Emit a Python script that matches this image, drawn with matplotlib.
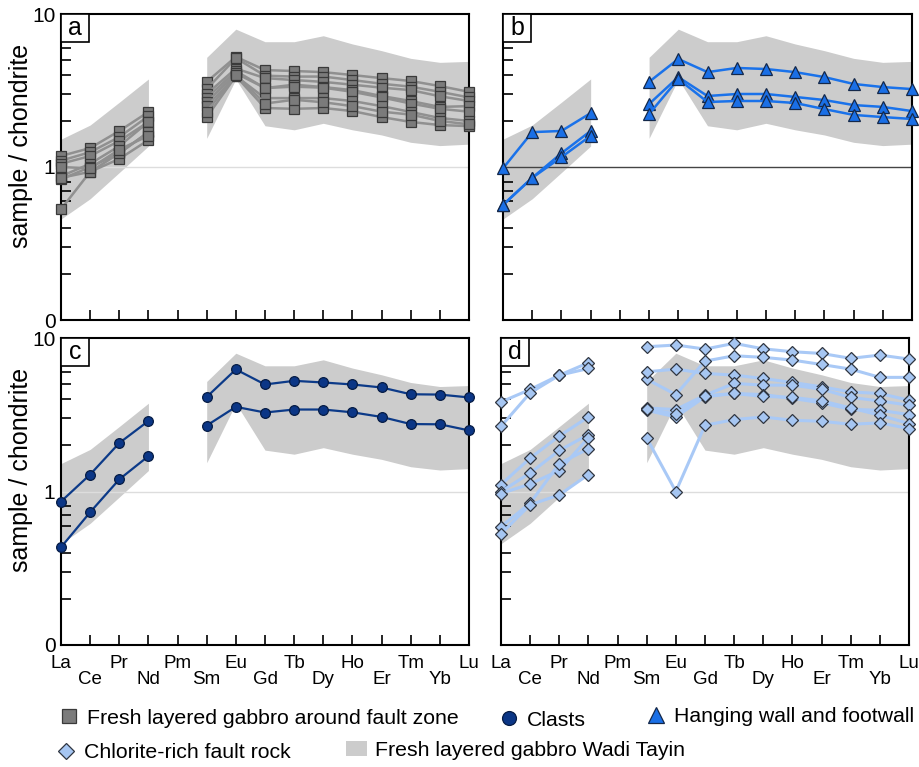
import numpy as np
import matplotlib
matplotlib.use('Agg')
import matplotlib.pyplot as plt
from matplotlib.lines import Line2D
from matplotlib.patches import Patch, Rectangle
from matplotlib.ticker import FixedLocator, NullFormatter

plt.rcParams['font.family'] = ['Liberation Sans', 'DejaVu Sans']

nan = np.nan
elements = ['La', 'Ce', 'Pr', 'Nd', 'Pm', 'Sm', 'Eu', 'Gd', 'Tb', 'Dy', 'Ho', 'Er', 'Tm', 'Yb', 'Lu']

# Envelope: fresh layered gabbro Wadi Tayin
env_upper = [1.52, 1.88, 2.65, 3.76, nan, 5.21, 7.96, 6.59, 6.59, 7.21, 6.37, 5.76, 5.13, 4.83, 4.90]
env_lower = [0.457, 0.62, 0.92, 1.37, nan, 1.54, 3.75, 1.86, 1.75, 1.93, 1.75, 1.62, 1.45, 1.38, 1.41]

# (a) Fresh layered gabbro around fault zone
gabbro = [
    [1.18, 1.33, 1.72, 2.29, nan, 3.60, 5.25, 4.30, 4.24, 4.17, 3.99, 3.81, 3.65, 3.38, 3.10],
    [1.10, 1.25, 1.57, 2.15, nan, 3.23, 5.15, 3.95, 3.90, 3.90, 3.70, 3.50, 3.35, 3.10, 2.85],
    [1.05, 1.18, 1.48, 1.97, nan, 3.00, 4.40, 3.81, 3.70, 3.60, 3.45, 3.30, 3.18, 2.90, 2.70],
    [0.87, 1.05, 1.37, 1.97, nan, 2.82, 4.24, 3.28, 3.45, 3.33, 3.18, 2.91, 2.70, 2.47, 2.50],
    [0.83, 1.00, 1.23, 1.69, nan, 2.65, 4.10, 3.28, 3.35, 3.30, 3.10, 2.85, 2.60, 2.40, 2.30],
    [0.85, 0.93, 1.13, 1.50, nan, 2.50, 3.93, 2.82, 2.82, 2.82, 2.70, 2.50, 2.29, 2.09, 2.00],
    [0.53, 0.93, 1.23, 1.69, nan, 2.12, 3.93, 2.43, 2.40, 2.43, 2.32, 2.12, 1.97, 1.88, 1.85],
    [1.00, 0.98, 1.30, 1.60, nan, 2.30, 4.00, 2.60, 2.75, 2.65, 2.50, 2.30, 2.20, 2.00, 1.90],
]

# (b) Hanging wall and footwall
walls = [
    [0.98, 1.69, 1.72, 2.25, nan, 3.60, 5.08, 4.17, 4.44, 4.37, 4.17, 3.87, 3.49, 3.33, 3.23],
    [0.565, 0.85, 1.23, 1.72, nan, 2.58, 3.87, 2.91, 3.00, 3.00, 2.87, 2.74, 2.54, 2.47, 2.32],
    [0.565, 0.85, 1.16, 1.60, nan, 2.22, 3.76, 2.66, 2.70, 2.70, 2.62, 2.39, 2.19, 2.12, 2.06],
]

# (c) Clasts
clasts = [
    [0.86, 1.29, 2.07, 2.88, nan, 4.13, 6.24, 4.98, 5.26, 5.13, 4.98, 4.76, 4.30, 4.28, 4.10],
    [0.433, 0.733, 1.20, 1.70, nan, 2.69, 3.56, 3.27, 3.42, 3.42, 3.28, 3.06, 2.75, 2.74, 2.50],
]

# (d) Chlorite-rich fault rock
chlorite = [
    [3.83, 4.62, 5.72, 6.90, nan, 8.77, 9.00, 8.47, 9.23, 8.50, 8.14, 7.93, 7.37, 7.74, 7.29],
    [2.66, 4.39, 5.72, 6.33, nan, 5.39, 4.28, 7.07, 7.66, 7.48, 7.18, 6.72, 6.27, 5.54, 5.54],
    [1.11, 1.65, 2.30, 3.06, nan, 6.02, 6.27, 5.88, 5.73, 5.45, 5.13, 4.81, 4.45, 4.35, 3.93],
    [1.00, 1.32, 1.85, 2.35, nan, 3.50, 3.42, 4.24, 5.06, 4.93, 4.93, 4.64, 4.10, 3.89, 3.65],
    [0.97, 1.12, 1.37, 2.24, nan, 3.38, 3.06, 4.14, 4.35, 4.28, 4.04, 3.78, 3.43, 3.38, 3.17],
    [0.59, 0.84, 1.52, 1.90, nan, 3.45, 3.20, 4.20, 4.35, 4.17, 4.10, 3.90, 3.50, 3.14, 2.77],
    [0.53, 0.82, 0.95, 1.29, nan, 2.23, 1.00, 2.70, 2.94, 3.06, 2.91, 2.87, 2.74, 2.80, 2.57],
]

x = np.arange(len(elements))
segments = [slice(0, 4), slice(5, 15)]

W, H = 919, 767
fig = plt.figure(figsize=(W / 100, H / 100), dpi=100)


def px_axes(l, t, r, b):
    return fig.add_axes([l / W, 1 - b / H, (r - l) / W, (b - t) / H])


axa = px_axes(61, 14, 469, 320)
axb = px_axes(503, 14, 912, 320)
axc = px_axes(61, 338, 469, 645)
axd = px_axes(501, 338, 909, 645)

styles = {
    'a': dict(data=gabbro, marker='s', ms=7.5, lc='#909090', mfc='#7b7b7b', mec='#3a3a3a', lw=1.8),
    'b': dict(data=walls, marker='^', ms=8.5, lc='#1a72ea', mfc='#1a6fe6', mec='#14284a', lw=1.8),
    'c': dict(data=clasts, marker='o', ms=7, lc='#0c3a88', mfc='#0b3686', mec='#061c45', lw=1.6),
    'd': dict(data=chlorite, marker='D', ms=6, lc='#a9c9f6', mfc='#a6c6f2', mec='#2f3540', lw=2.2),
}

for key, ax in zip('abcd', [axa, axb, axc, axd]):
    st = styles[key]
    ax.set_yscale('log')
    ax.set_ylim(0.1, 10)
    ax.set_xlim(0, 14)
    for sg in segments:
        ax.fill_between(x[sg], np.array(env_lower)[sg], np.array(env_upper)[sg],
                        color='#cccccc', lw=0, zorder=1)
    ax.axhline(1, color='#444444' if key == 'b' else '#dddddd', lw=1.0, zorder=1.5)
    for series in st['data']:
        arr = np.array(series)
        for sg in segments:
            ax.plot(x[sg], arr[sg], color=st['lc'], lw=st['lw'], zorder=3,
                    marker=st['marker'], ms=st['ms'], mfc=st['mfc'], mec=st['mec'],
                    mew=0.9, clip_on=False)
    for sp in ax.spines.values():
        sp.set_linewidth(1.5)
        sp.set_zorder(2.5)
    ax.set_xticks(x)
    ax.tick_params(axis='x', direction='in', length=7, width=1.2, labelsize=13.5, pad=7.5)
    if key in 'cd':
        ax.set_xticklabels(elements)
        for i, t in enumerate(ax.xaxis.get_major_ticks()):
            if i % 2 == 1:
                t.set_pad(19)
    else:
        ax.set_xticklabels([])
    ax.set_yticks([0.1, 1, 10])
    ax.yaxis.set_minor_locator(FixedLocator([0.2, 0.3, 0.4, 0.6, 0.7, 0.8, 2, 3, 4, 5, 6]))
    ax.yaxis.set_minor_formatter(NullFormatter())
    ax.tick_params(axis='y', which='major', length=0, labelsize=15, pad=4)
    ax.tick_params(axis='y', which='minor', direction='in', length=7, width=1.2)
    if key in 'ac':
        ax.set_yticklabels(['0', '1', '10'])
        ax.set_ylabel('sample / chondrite', fontsize=18, labelpad=0)
        ax.yaxis.set_label_coords(-0.068, 0.57)
    else:
        ax.set_yticklabels([])
    bw, bh = 28 / (ax.bbox.width), 28 / (ax.bbox.height)
    ax.add_patch(Rectangle((0, 1 - bh), bw, bh, transform=ax.transAxes, fill=True,
                           fc='white', ec='black', lw=1.2, zorder=5, clip_on=False))
    ax.text(bw / 2, 1 - bh / 2, key, transform=ax.transAxes, ha='center', va='center',
            fontsize=18, zorder=6)

# Legend
items = [
    (Line2D([], [], ls='none', marker='s', ms=10, mfc='#7b7b7b', mec='#3a3a3a', mew=0.9),
     'Fresh layered gabbro around fault zone', 58, 718),
    (Line2D([], [], ls='none', marker='o', ms=10, mfc='#0b3686', mec='#061c45', mew=0.9),
     'Clasts', 498, 720),
    (Line2D([], [], ls='none', marker='^', ms=11, mfc='#1a6fe6', mec='#14284a', mew=0.9),
     'Hanging wall and footwall', 645, 717),
    (Line2D([], [], ls='none', marker='D', ms=8, mfc='#a6c6f2', mec='#2f3540', mew=0.9),
     'Chlorite-rich fault rock', 55, 753),
    (Patch(fc='#cccccc', ec='none'),
     'Fresh layered gabbro Wadi Tayin', 346, 750),
]
for h, lab, lx, ly in items:
    fig.legend(handles=[h], labels=[lab], loc='center left', bbox_to_anchor=(lx / W, 1 - ly / H),
               frameon=False, fontsize=15.3, handlelength=1.0, handletextpad=0.38,
               borderpad=0, borderaxespad=0)

fig.savefig('out.png', dpi=100)
